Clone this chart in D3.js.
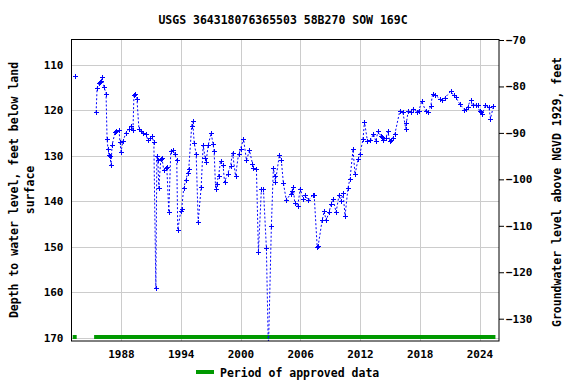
<!DOCTYPE html>
<html><head><meta charset="utf-8">
<script src="https://cdn.jsdelivr.net/npm/d3@7"></script>
<style>body{margin:0;background:#fff}text{font-family:"DejaVu Sans Mono",monospace;font-weight:bold}</style>
</head><body>
<svg id="c" width="576" height="384"></svg>
<script>
const titleText = "USGS 364318076365503 58B270 SOW 169C";
const leftTicks = [110,120,130,140,150,160,170];
const rightTicks = [-70,-80,-90,-100,-110,-120,-130];
const xTicks = [1988,1994,2000,2006,2012,2018,2024];
const isolatedYears = [1983.4];
const isolatedDepths = [112.5];
const years = [1985.5,1985.6,1985.8,1985.9,1986.0,1986.1,1986.3,1986.5,1986.6,1986.7,1986.8,1986.9,1987.0,1987.1,1987.4,1987.5,1987.8,1987.9,1988.0,1988.2,1988.5,1988.8,1989.0,1989.2,1989.3,1989.4,1989.6,1989.8,1990.0,1990.2,1990.5,1990.7,1990.9,1991.1,1991.3,1991.5,1991.6,1991.7,1991.8,1992.0,1992.1,1992.3,1992.5,1992.6,1992.8,1993.0,1993.2,1993.4,1993.6,1993.7,1994.0,1994.1,1994.3,1994.5,1994.7,1994.8,1995.1,1995.2,1995.35,1995.55,1995.75,1996.05,1996.25,1996.45,1996.55,1996.75,1997.05,1997.25,1997.35,1997.5,1997.6,1997.8,1998.0,1998.25,1998.4,1998.7,1999.0,1999.2,1999.5,1999.8,2000.0,2000.3,2000.6,2000.9,2001.2,2001.3,2001.6,2001.8,2002.1,2002.3,2002.6,2002.8,2003.1,2003.3,2003.45,2003.5,2003.9,2004.1,2004.3,2004.6,2005.05,2005.15,2005.3,2005.45,2005.75,2006.0,2006.3,2006.5,2006.8,2007.3,2007.4,2007.7,2007.8,2008.2,2008.4,2008.6,2008.9,2009.1,2009.3,2009.6,2009.9,2010.1,2010.3,2010.5,2010.8,2011.0,2011.3,2011.5,2011.8,2012.0,2012.3,2012.45,2012.75,2013.05,2013.35,2013.6,2013.8,2014.1,2014.2,2014.35,2014.6,2014.8,2015.0,2015.1,2015.3,2015.5,2016.0,2016.3,2016.6,2016.65,2016.85,2017.15,2017.35,2017.75,2017.9,2018.2,2018.6,2018.8,2019.1,2019.3,2019.5,2020.0,2020.2,2020.5,2021.1,2021.4,2021.6,2022.0,2022.45,2022.6,2022.8,2023.1,2023.3,2023.6,2023.8,2024.0,2024.15,2024.3,2024.6,2024.95,2025.1,2025.4];
const depths = [120.4,115.1,114.0,113.8,113.5,112.7,114.9,116.3,126.3,128.6,129.9,130.1,132.1,127.7,124.8,124.6,124.3,127.0,129.1,126.8,124.9,124.1,123.4,124.4,116.6,116.3,117.4,124.1,124.6,125.0,125.1,126.6,126.0,125.7,127.0,159.2,130.1,131.0,137.0,130.6,130.4,133.2,132.7,132.4,142.4,128.9,128.8,129.6,131.0,146.3,142.2,141.6,137.0,135.4,133.8,133.0,123.4,122.4,127.1,129.7,144.5,136.9,127.7,130.4,131.3,127.7,125.0,127.5,129.0,137.2,136.3,134.4,131.1,132.1,135.8,133.9,132.3,129.3,134.4,129.7,128.6,126.2,131.0,128.8,131.7,132.7,133.0,151.2,137.2,137.2,150.3,173,145.5,132.7,134.5,135.8,129.9,131.0,135.9,139.8,138.3,137.8,136.9,140.4,141.0,137.2,139.6,138.6,139.8,138.6,138.7,150.0,149.8,144.2,142.2,144.2,142.4,140.5,139.6,142.4,138.6,140.0,138.2,143.2,137.0,135.0,128.6,134.1,130.8,129.5,126.4,122.5,126.8,126.6,125.2,126.8,124.6,125.6,125.9,126.5,126.1,124.6,126.8,126.6,126.0,125.2,120.1,120.4,124.0,122.8,120.1,120.4,119.6,120.4,120.1,118.0,120.1,120.4,119.1,116.3,116.5,117.4,117.6,117.3,115.8,116.7,117.1,118.5,119.8,119.6,119.3,117.7,118.9,118.8,118.8,120.1,120.4,120.7,118.9,119.3,121.8,119.1];
const approvedStart = [1983.15, 1985.3];
const approvedEnd = [1983.55, 2025.6];
const legendLabel = "Period of approved data";
const leftLabel = ["Depth to water level, feet below land", "surface"];
const rightLabel = "Groundwater level above NGVD 1929, feet";

const svg = d3.select("#c");
const L = 71.5, R = 499, T = 39.5, B = 341;
const x = d3.scaleLinear().domain([1988, 2024]).range([121, 479.5]);
const y = d3.scaleLinear().domain([110, 170]).range([65, 337.5]);
const yR = d3.scaleLinear().domain([-70, -130]).range([40, 318.7]);

svg.append("defs").append("clipPath").attr("id","clip")
  .append("rect").attr("x",L).attr("y",T).attr("width",R-L).attr("height",B-T);

// gridlines
svg.append("g").selectAll("line").data(leftTicks).join("line")
  .attr("x1",L).attr("x2",R).attr("y1",d=>Math.round(y(d))+0.5).attr("y2",d=>Math.round(y(d))+0.5)
  .attr("stroke","#cccccc").attr("stroke-width",1);
svg.append("g").selectAll("line").data(xTicks).join("line")
  .attr("y1",T).attr("y2",B).attr("x1",d=>Math.round(x(d))+0.5).attr("x2",d=>Math.round(x(d))+0.5)
  .attr("stroke","#cccccc").attr("stroke-width",1);

// approved bars
svg.append("g").selectAll("line").data(approvedStart).join("line")
  .attr("x1",d=>x(d)).attr("x2",(d,i)=>x(approvedEnd[i]))
  .attr("y1",y(170)-0.5).attr("y2",y(170)-0.5)
  .attr("stroke","#009900").attr("stroke-width",4);

// data
const pts = years.map((yr,i)=>[yr,depths[i]]);
const g = svg.append("g").attr("clip-path","url(#clip)");
g.append("path").datum(pts)
  .attr("d", d3.line().x(d=>x(d[0])).y(d=>y(d[1])))
  .attr("fill","none").attr("stroke","#0000ff").attr("stroke-width",1).attr("stroke-dasharray","2,2");
const allPts = isolatedYears.map((yr,i)=>[yr,isolatedDepths[i]]).concat(pts);
g.append("g").selectAll("path").data(allPts).join("path")
  .attr("d", d=>{const cx=Math.round(x(d[0]))+0.5, cy=Math.round(y(d[1]))+0.5;
    return `M${cx-2.5},${cy}H${cx+2.5}M${cx},${cy-2.5}V${cy+2.5}`;})
  .attr("stroke","#0000ff").attr("stroke-width",1);

// frame
svg.append("rect").attr("x",L).attr("y",T).attr("width",R-L).attr("height",B-T)
  .attr("fill","none").attr("stroke","#000").attr("stroke-width",1);

// axes
const fs = "11px";
const la = svg.append("g").attr("transform",`translate(${L},0)`)
  .call(d3.axisLeft(y).tickValues(leftTicks).tickSize(0).tickPadding(8).tickFormat(d3.format("d")));
la.select(".domain").remove();
la.selectAll("text").style("font-size",fs).attr("fill","#000");

const ra = svg.append("g").attr("transform",`translate(${R},0)`)
  .call(d3.axisRight(yR).tickValues(rightTicks).tickSize(5).tickPadding(2).tickFormat(d3.format("d")));
ra.select(".domain").remove();
ra.selectAll("line").attr("stroke","#000");
ra.selectAll("text").style("font-size",fs).attr("fill","#000");

const ba = svg.append("g").attr("transform",`translate(0,${B})`)
  .call(d3.axisBottom(x).tickValues(xTicks).tickSize(0).tickPadding(9).tickFormat(d3.format("d")));
ba.select(".domain").remove();
ba.selectAll("text").style("font-size",fs).attr("fill","#000");

// title
svg.append("text").attr("x",283).attr("y",24).attr("text-anchor","middle")
  .style("font-size","11.5px").text(titleText);

// left labels
svg.append("text").attr("transform","translate(18,190) rotate(-90)").attr("text-anchor","middle")
  .style("font-size","11.5px").text(leftLabel[0]);
svg.append("text").attr("transform","translate(34,190) rotate(-90)").attr("text-anchor","middle")
  .style("font-size","11.5px").text(leftLabel[1]);
// right label
svg.append("text").attr("transform","translate(561,192) rotate(-90)").attr("text-anchor","middle")
  .style("font-size","11.5px").text(rightLabel);

// legend
svg.append("line").attr("x1",196).attr("x2",214).attr("y1",372).attr("y2",372)
  .attr("stroke","#009900").attr("stroke-width",4);
svg.append("text").attr("x",220).attr("y",376.5).style("font-size","11.5px").text(legendLabel);
</script>
</body></html>
